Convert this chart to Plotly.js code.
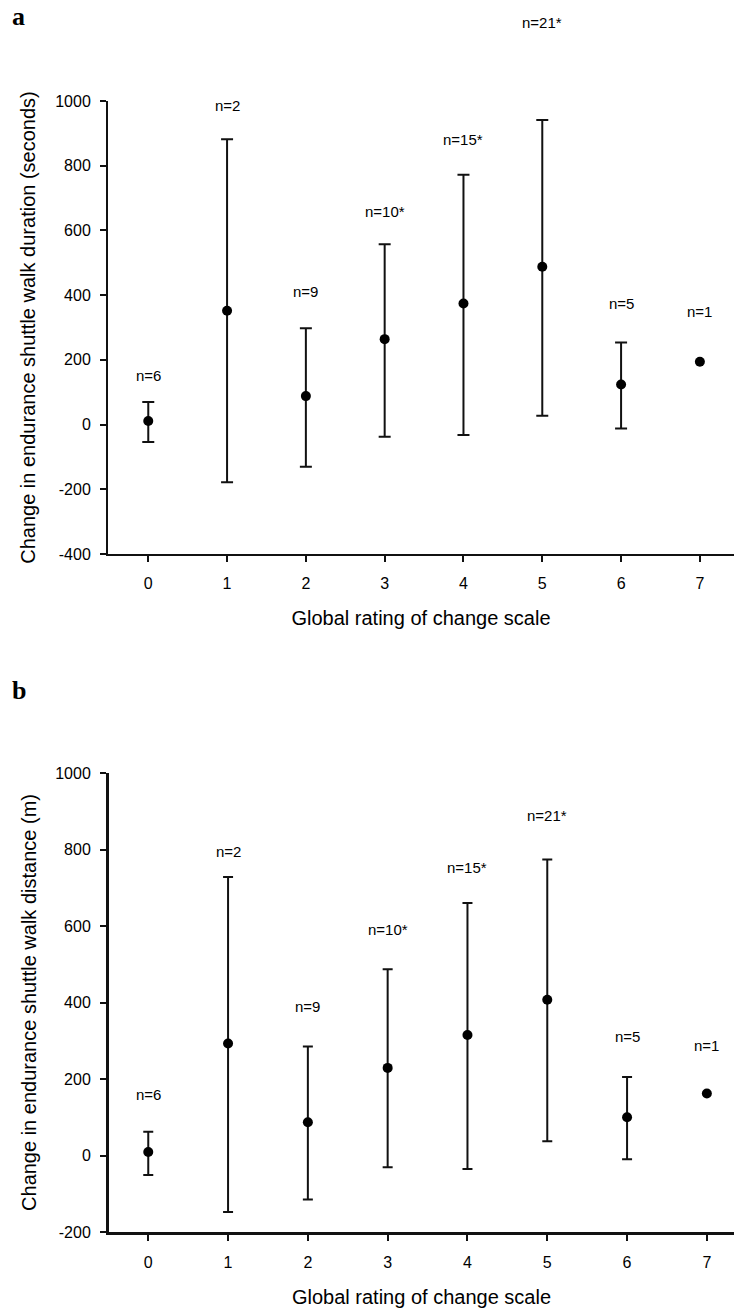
<!DOCTYPE html>
<html>
<head>
<meta charset="utf-8">
<script src="https://cdn.plot.ly/plotly-3.0.1.min.js"></script>
<style>html,body{margin:0;padding:0;background:#fff;}#chart{width:734px;height:1311px;}</style>
</head>
<body>
<div id="chart"></div>
<script>
// ---- data ----
const ratings = [0, 1, 2, 3, 4, 5, 6, 7];
const nLabels = ['n=6', 'n=2', 'n=9', 'n=10*', 'n=15*', 'n=21*', 'n=5', 'n=1'];

// panel a: change in ESWT duration (seconds)
const durMean  = [11, 352, 88, 264, 374, 488, 124, 194];
const durUpper = [70, 882, 298, 557, 772, 941, 254, null];
const durLower = [-54, -178, -130, -38, -32, 27, -12, null];
const durLabelY = [153, 987, 410, 658, 880, 1244, 373, 349];

// panel b: change in ESWT distance (m)
const distMean  = [9, 293, 87, 229, 315, 407, 100, 162];
const distUpper = [62, 728, 285, 487, 660, 774, 205, null];
const distLower = [-51, -148, -115, -31, -35, 37, -10, null];
const distLabelY = [160, 794, 390, 591, 752, 889, 310, 288];

const yTicksA = [-400, -200, 0, 200, 400, 600, 800, 1000];
const yTicksB = [-200, 0, 200, 400, 600, 800, 1000];

const xTitle = 'Global rating of change scale';
const yTitleA = 'Change in endurance shuttle walk duration (seconds)';
const yTitleB = 'Change in endurance shuttle walk distance (m)';

// ---- build ----
const FONT = '"Liberation Sans", Arial, sans-serif';
const rangeA = [-400, 1000];
const rangeB = [-200, 1000];
function plus(mean, up) { return mean.map((m, i) => up[i] == null ? NaN : up[i] - m); }
function minus(mean, lo) { return mean.map((m, i) => lo[i] == null ? NaN : m - lo[i]); }

function trace(mean, up, lo, xa, ya, th, w) {
  return {
    type: 'scatter', mode: 'markers', x: ratings, y: mean, xaxis: xa, yaxis: ya,
    marker: {color: '#000', size: 10},
    error_y: {type: 'data', symmetric: false, array: plus(mean, up), arrayminus: minus(mean, lo),
              color: '#111', thickness: th, width: w},
    showlegend: false, hoverinfo: 'skip'
  };
}

const data = [
  trace(durMean, durUpper, durLower, 'x', 'y', 2, 6),
  trace(distMean, distUpper, distLower, 'x2', 'y2', 2, 5)
];

// labels may sit above the axis range, so place them in the axis-domain frame
function toDomain(v, r) { return (v - r[0]) / (r[1] - r[0]); }

const annotations = [];
ratings.forEach((r, i) => {
  annotations.push({x: r, y: toDomain(durLabelY[i], rangeA), xref: 'x', yref: 'y domain', text: nLabels[i],
    xanchor: 'center', yanchor: 'middle',
    showarrow: false, font: {family: FONT, size: 15, color: '#000'}});
  annotations.push({x: r, y: toDomain(distLabelY[i], rangeB), xref: 'x2', yref: 'y2 domain', text: nLabels[i],
    xanchor: 'center', yanchor: 'middle',
    showarrow: false, font: {family: FONT, size: 15, color: '#000'}});
});
annotations.push({x: 10/734, y: 1, xref: 'paper', yref: 'paper', xanchor: 'left', yanchor: 'top',
  text: '<b>a</b>', showarrow: false, font: {family: '"Liberation Serif", "Times New Roman", serif', size: 26, color: '#000'}});
annotations.push({x: 10/734, y: 1 - 674/1311, xref: 'paper', yref: 'paper', xanchor: 'left', yanchor: 'top',
  text: '<b>b</b>', showarrow: false, font: {family: '"Liberation Serif", "Times New Roman", serif', size: 26, color: '#000'}});

function xaxis(domain, range, anchor, lw) {
  return {domain: domain, range: range, anchor: anchor, tickvals: ratings, ticktext: ratings.map(String),
    ticks: 'outside', ticklen: 6, tickwidth: 2, tickcolor: '#111', showline: true, linewidth: lw, linecolor: '#111',
    showgrid: false, zeroline: false, ticklabelstandoff: 8, automargin: true,
    tickfont: {family: FONT, size: 16, color: '#000'},
    title: {text: xTitle, font: {family: FONT, size: 20, color: '#000'}, standoff: 20}};
}
function yaxis(domain, range, anchor, ticks, lw, title) {
  return {domain: domain, range: range, anchor: anchor, tickvals: ticks, ticktext: ticks.map(String),
    ticks: 'outside', ticklen: 6, tickwidth: 2, tickcolor: '#111', showline: true, linewidth: lw, linecolor: '#111',
    showgrid: false, zeroline: false, ticklabelstandoff: 6, automargin: true,
    tickfont: {family: FONT, size: 16, color: '#000'},
    title: {text: title, font: {family: FONT, size: 20, color: '#000'}, standoff: 14}};
}

const layout = {
  width: 734, height: 1311, margin: {l: 0, r: 0, t: 0, b: 0, autoexpand: false},
  paper_bgcolor: '#fff', plot_bgcolor: '#fff', showlegend: false,
  xaxis: xaxis([108/734, 1], [-0.511, 7.433], 'y', 2),
  yaxis: yaxis([1 - 554/1311, 1 - 101/1311], rangeA, 'x', yTicksA, 2, yTitleA),
  xaxis2: xaxis([109/734, 1], [-0.492, 7.34], 'y2', 3),
  yaxis2: yaxis([1 - 1232/1311, 1 - 773/1311], rangeB, 'x2', yTicksB, 3, yTitleB),
  annotations: annotations
};

Plotly.newPlot('chart', data, layout, {staticPlot: true, displayModeBar: false});
</script>
</body>
</html>
